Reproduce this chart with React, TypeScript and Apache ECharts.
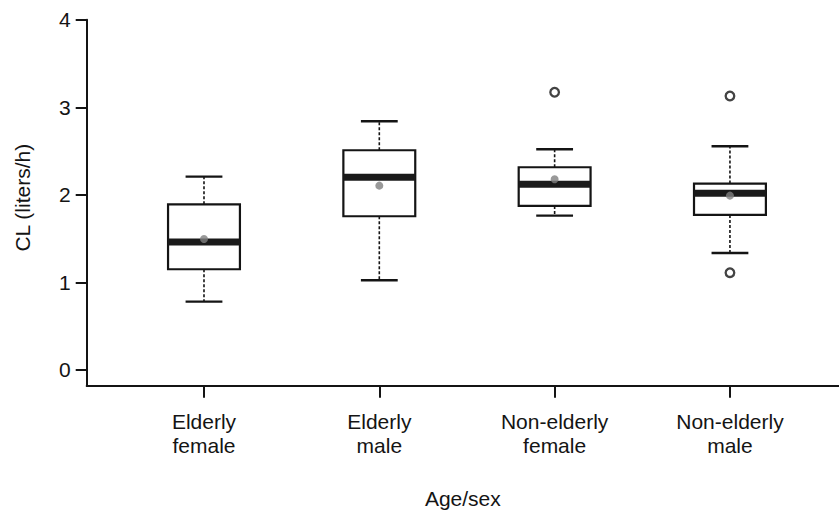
import React, { useEffect, useRef } from "react";
import * as echarts from "echarts";

const categories = ["Elderly\nfemale", "Elderly\nmale", "Non-elderly\nfemale", "Non-elderly\nmale"];
const positions = [1, 2, 3, 4];
const whiskerLow = [0.78, 1.025, 1.762, 1.336];
const q1 = [1.15, 1.755, 1.873, 1.77];
const median = [1.462, 2.201, 2.121, 2.018];
const q3 = [1.892, 2.509, 2.315, 2.128];
const whiskerHigh = [2.208, 2.84, 2.52, 2.555];
const means = [1.496, 2.105, 2.178, 1.991];
const outlierPos = [3, 4, 4];
const outlierVal = [3.171, 3.129, 1.111];
const yTicks = [0, 1, 2, 3, 4];

const FONT = "'Liberation Sans', Arial, sans-serif";
const INK = "#141414";

export default function App() {
  const ref = useRef<HTMLDivElement>(null);
  useEffect(() => {
    if (!ref.current) return;
    const chart = echarts.init(ref.current, undefined, { renderer: "svg" });
    const boxData = positions.map((p, i) => [p, whiskerLow[i], q1[i], median[i], q3[i], whiskerHigh[i]]);
    const option: any = {
      animation: false,
      backgroundColor: "#ffffff",
      grid: { left: 86.7, right: 0, top: 19.7, bottom: 127.3, containLabel: false, outerBoundsMode: "none" },
      xAxis: {
        type: "value",
        min: 0.331,
        max: 4.622,
        name: "Age/sex",
        nameLocation: "middle",
        nameGap: 102,
        nameTextStyle: { fontFamily: FONT, fontSize: 21, color: INK },
        axisLine: { show: true, onZero: false, lineStyle: { color: INK, width: 2 } },
        axisTick: { show: true, customValues: positions, length: 12, lineStyle: { color: INK, width: 2 } },
        axisLabel: {
          customValues: positions,
          formatter: (v: number) => categories[Math.round(v) - 1] ?? "",
          margin: 24,
          fontFamily: FONT,
          fontSize: 21,
          lineHeight: 24,
          color: INK,
        },
        splitLine: { show: false },
      },
      yAxis: {
        type: "value",
        min: -0.18,
        max: 4,
        name: "CL (liters/h)",
        nameLocation: "middle",
        nameRotate: 90,
        nameGap: 54,
        nameTextStyle: { fontFamily: FONT, fontSize: 21, color: INK, padding: [0, 0, 0, 10] },
        axisLine: { show: true, onZero: false, lineStyle: { color: INK, width: 2 } },
        axisTick: { show: true, customValues: yTicks, length: 11, lineStyle: { color: INK, width: 2 } },
        axisLabel: { customValues: yTicks, margin: 16, fontFamily: FONT, fontSize: 21, color: INK },
        splitLine: { show: false },
      },
      series: [
        {
          type: "custom",
          data: boxData,
          encode: { x: 0, y: [1, 2, 3, 4, 5] },
          renderItem: (params: any, api: any) => {
            const x = api.value(0);
            const pLow = api.coord([x, api.value(1)]);
            const pQ1 = api.coord([x, api.value(2)]);
            const pMed = api.coord([x, api.value(3)]);
            const pQ3 = api.coord([x, api.value(4)]);
            const pHigh = api.coord([x, api.value(5)]);
            const half = api.size([0.41, 0])[0] / 2;
            const capHalf = api.size([0.21, 0])[0] / 2;
            const cx = pMed[0];
            const dash = { stroke: INK, lineWidth: 1.6, lineDash: [3, 2] };
            const cap = { stroke: INK, lineWidth: 2.4 };
            return {
              type: "group",
              children: [
                { type: "line", shape: { x1: cx, y1: pQ3[1], x2: cx, y2: pHigh[1] }, style: dash },
                { type: "line", shape: { x1: cx, y1: pQ1[1], x2: cx, y2: pLow[1] }, style: dash },
                { type: "line", shape: { x1: cx - capHalf, y1: pHigh[1], x2: cx + capHalf, y2: pHigh[1] }, style: cap },
                { type: "line", shape: { x1: cx - capHalf, y1: pLow[1], x2: cx + capHalf, y2: pLow[1] }, style: cap },
                {
                  type: "rect",
                  shape: { x: cx - half, y: pQ3[1], width: half * 2, height: pQ1[1] - pQ3[1] },
                  style: { fill: "#ffffff", stroke: INK, lineWidth: 2.2 },
                },
                {
                  type: "rect",
                  shape: { x: cx - half, y: pMed[1] - 3.5, width: half * 2, height: 7 },
                  style: { fill: "#1a1a1a" },
                },
              ],
            };
          },
          z: 2,
        },
        {
          type: "scatter",
          data: positions.map((p, i) => [p, means[i]]),
          symbol: "circle",
          symbolSize: 8,
          itemStyle: { color: "#808080" },
          z: 5,
        },
        {
          type: "scatter",
          data: outlierPos.map((p, i) => [p, outlierVal[i]]),
          symbol: "circle",
          symbolSize: 8.6,
          itemStyle: { color: "#ffffff", borderColor: INK, borderWidth: 2.3 },
          z: 5,
        },
      ],
    };
    chart.setOption(option);
    return () => chart.dispose();
  }, []);
  return <div ref={ref} style={{ position: "fixed", left: 0, top: 0, width: 839, height: 513, background: "#fff" }} />;
}
